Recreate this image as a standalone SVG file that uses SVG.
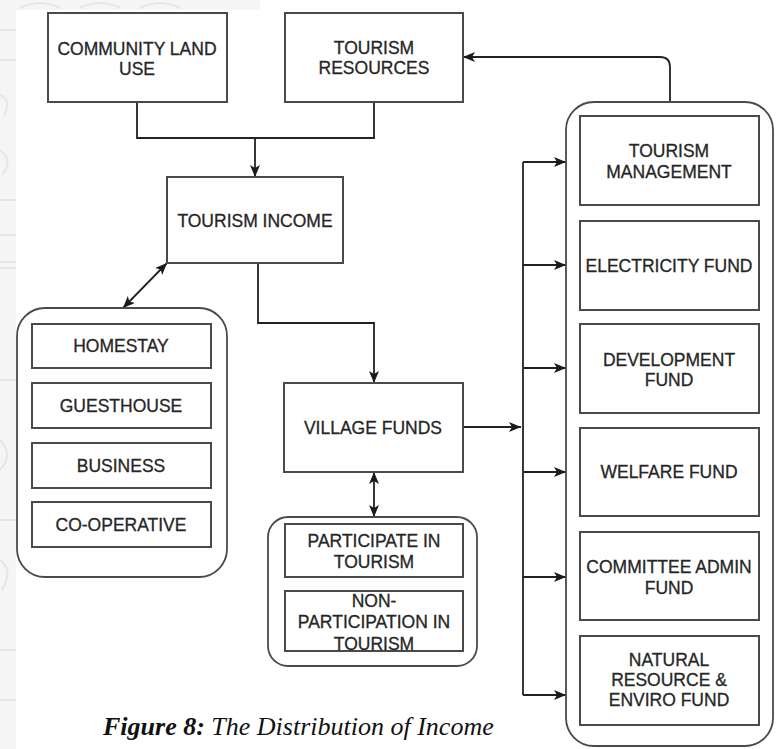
<svg xmlns="http://www.w3.org/2000/svg" width="778" height="749" viewBox="0 0 778 749">
  <style>
    .box { fill: #ffffff; stroke: #4a4a4a; stroke-width: 2; }
    .grp { fill: #ffffff; stroke: #4a4a4a; stroke-width: 1.8; }
    .lbl { font-family: "Liberation Sans", Arial, sans-serif; font-size: 17.5px; fill: #262626; stroke: #262626; stroke-width: 0.3; text-anchor: middle; }
    .edge { fill: none; stroke: #222222; stroke-width: 1.8; }
    .cap { font-family: "Liberation Serif", "Times New Roman", serif; font-size: 26px; font-style: italic; fill: #111111; }
    .wm { fill: none; stroke: #e6e6e6; stroke-width: 2; }
  </style>
  <defs>
    <marker id="arrow" viewBox="0 0 12 10" refX="12" refY="5" markerWidth="12" markerHeight="10" markerUnits="userSpaceOnUse" orient="auto-start-reverse">
      <path d="M0,0 L12,5 L0,10 L3,5 Z" fill="#1a1a1a"/>
    </marker>
  </defs>

  <!-- page background with faint emblem band at the margins -->
  <rect x="0" y="0" width="778" height="749" fill="#ffffff"/>
  <g id="margin-band">
    <rect x="0" y="0" width="16" height="749" fill="#f5f5f5"/>
    <rect x="0" y="0" width="260" height="10" fill="#f5f5f5"/>
    <path class="wm" d="M0,30 H16 M0,60 H16 M0,95 Q12,100 4,115 M0,150 Q14,160 2,175 M0,200 H16 M0,235 H16 M0,262 H16 M0,268 H16 M0,380 H16 M0,440 Q14,455 0,470 M0,520 H16 M0,560 Q14,570 2,590 M0,650 H16 M0,700 H16"/>
    <path class="wm" d="M20,8 Q40,-2 60,8 M80,8 Q100,-2 120,8 M140,8 Q160,-2 180,8"/>
  </g>

  <!-- connectors -->
  <g id="connectors">
    <path class="edge" d="M137,102 V138 H374 V102"/>
    <path class="edge" d="M255,138 V177" marker-end="url(#arrow)"/>
    <path class="edge" d="M670,102 V67 Q670,57 660,57 H463" marker-end="url(#arrow)"/>
    <path class="edge" d="M167,263 L123,308" marker-start="url(#arrow)" marker-end="url(#arrow)"/>
    <path class="edge" d="M258,263 V323 H374 V383" marker-end="url(#arrow)"/>
    <path class="edge" d="M374,472 V517" marker-start="url(#arrow)" marker-end="url(#arrow)"/>
    <path class="edge" d="M463,427 H521" marker-end="url(#arrow)"/>
    <path class="edge" d="M523,162 V695"/>
    <path class="edge" d="M523,162 H566" marker-end="url(#arrow)"/>
    <path class="edge" d="M523,265 H566" marker-end="url(#arrow)"/>
    <path class="edge" d="M523,368 H566" marker-end="url(#arrow)"/>
    <path class="edge" d="M523,472 H566" marker-end="url(#arrow)"/>
    <path class="edge" d="M523,577 H566" marker-end="url(#arrow)"/>
    <path class="edge" d="M523,695 H566" marker-end="url(#arrow)"/>
  </g>

  <!-- source nodes -->
  <g id="community-land-use">
    <rect class="box" x="48" y="13" width="179" height="89"/>
    <text class="lbl" x="137" y="55">COMMUNITY LAND</text>
    <text class="lbl" x="137" y="75">USE</text>
  </g>
  <g id="tourism-resources">
    <rect class="box" x="285" y="13" width="178" height="89"/>
    <text class="lbl" x="374" y="54">TOURISM</text>
    <text class="lbl" x="374" y="74">RESOURCES</text>
  </g>
  <g id="tourism-income">
    <rect class="box" x="167" y="177" width="176" height="86"/>
    <text class="lbl" x="255" y="227">TOURISM INCOME</text>
  </g>
  <g id="village-funds">
    <rect class="box" x="284" y="383" width="179" height="89"/>
    <text class="lbl" x="373" y="434">VILLAGE FUNDS</text>
  </g>

  <!-- income earners -->
  <g id="earners">
    <rect class="grp" x="17" y="308" width="210" height="269" rx="28" ry="28"/>
    <g id="homestay">
      <rect class="box" x="32" y="324" width="179" height="44"/>
      <text class="lbl" x="121" y="352">HOMESTAY</text>
    </g>
    <g id="guesthouse">
      <rect class="box" x="32" y="383" width="179" height="45"/>
      <text class="lbl" x="121" y="412">GUESTHOUSE</text>
    </g>
    <g id="business">
      <rect class="box" x="32" y="443" width="179" height="45"/>
      <text class="lbl" x="121" y="472">BUSINESS</text>
    </g>
    <g id="co-operative">
      <rect class="box" x="32" y="502" width="179" height="45"/>
      <text class="lbl" x="121" y="531">CO-OPERATIVE</text>
    </g>
  </g>

  <!-- villagers -->
  <g id="villagers">
    <rect class="grp" x="268" y="517" width="209" height="149" rx="20" ry="20"/>
    <g id="participate">
      <rect class="box" x="285" y="524" width="178" height="53"/>
      <text class="lbl" x="374" y="547">PARTICIPATE IN</text>
      <text class="lbl" x="374" y="568">TOURISM</text>
    </g>
    <g id="non-participate">
      <rect class="box" x="285" y="591" width="178" height="60"/>
      <text class="lbl" x="374" y="607">NON-</text>
      <text class="lbl" x="374" y="628">PARTICIPATION IN</text>
      <text class="lbl" x="374" y="650">TOURISM</text>
    </g>
  </g>

  <!-- fund allocations -->
  <g id="funds">
    <rect class="grp" x="566" y="102" width="207" height="644" rx="28" ry="28"/>
    <g id="tourism-management">
      <rect class="box" x="580" y="116" width="179" height="89"/>
      <text class="lbl" x="669" y="157">TOURISM</text>
      <text class="lbl" x="669" y="178">MANAGEMENT</text>
    </g>
    <g id="electricity-fund">
      <rect class="box" x="580" y="221" width="179" height="89"/>
      <text class="lbl" x="669" y="272">ELECTRICITY FUND</text>
    </g>
    <g id="development-fund">
      <rect class="box" x="580" y="324" width="179" height="89"/>
      <text class="lbl" x="669" y="366">DEVELOPMENT</text>
      <text class="lbl" x="669" y="386">FUND</text>
    </g>
    <g id="welfare-fund">
      <rect class="box" x="580" y="428" width="179" height="88"/>
      <text class="lbl" x="669" y="478">WELFARE FUND</text>
    </g>
    <g id="committee-admin-fund">
      <rect class="box" x="580" y="532" width="179" height="88"/>
      <text class="lbl" x="669" y="573">COMMITTEE ADMIN</text>
      <text class="lbl" x="669" y="594">FUND</text>
    </g>
    <g id="natural-resource-fund">
      <rect class="box" x="580" y="636" width="179" height="89"/>
      <text class="lbl" x="669" y="666">NATURAL</text>
      <text class="lbl" x="669" y="686">RESOURCE &amp;</text>
      <text class="lbl" x="669" y="706">ENVIRO FUND</text>
    </g>
  </g>

  <!-- caption -->
  <text class="cap" x="103" y="735"><tspan font-weight="bold">Figure 8:</tspan> The Distribution of Income</text>
</svg>
